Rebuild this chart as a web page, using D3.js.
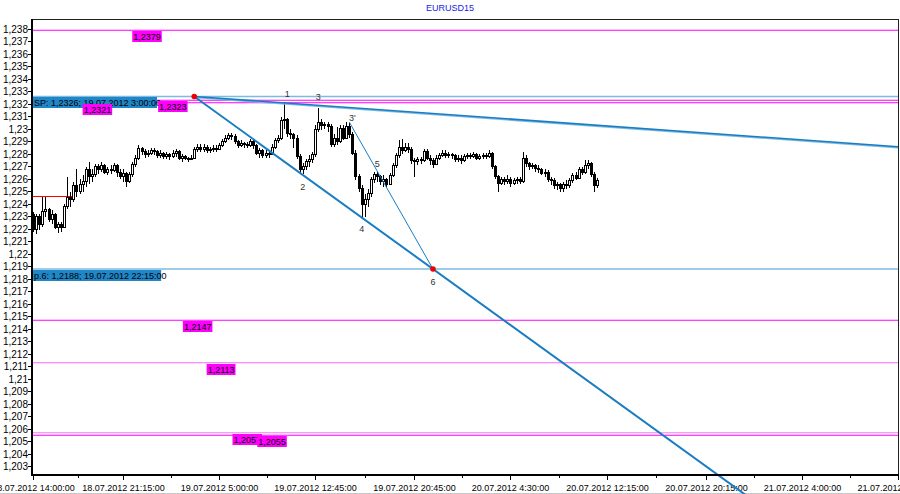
<!DOCTYPE html>
<html><head><meta charset="utf-8">
<script src="https://cdn.jsdelivr.net/npm/d3@7"></script>
<style>body{margin:0;background:#fff}svg{display:block}text{font-family:"Liberation Sans",Arial,sans-serif}</style>
</head><body><svg id="c" width="900" height="494"></svg>
<script>
// ---------- DATA ----------
const title = "EURUSD15";
const startTime = "18.07.2012 14:00";
const barMinutes = 15;
const open0 = 1.2232;
const closes = [
1.2220,1.2230,1.2224,1.2234,1.2236,1.2228,1.2232,1.2222,1.2224,1.2222,
1.2238,1.2246,1.2244,1.2255,1.2250,1.2256,1.2258,1.2268,1.2262,1.2264,
1.2270,1.2268,1.2271,1.2266,1.2268,1.2267,1.2271,1.2266,1.2262,1.2265,
1.2258,1.2264,1.2272,1.2277,1.2285,1.2282,1.2280,1.2281,1.2283,1.2282,
1.2279,1.2281,1.2278,1.2280,1.2278,1.2281,1.2282,1.2277,1.2278,1.2277,
1.2276,1.2277,1.2284,1.2286,1.2284,1.2286,1.2283,1.2284,1.2285,1.2284,
1.2287,1.2290,1.2293,1.2295,1.2294,1.2290,1.2287,1.2289,1.2288,1.2287,
1.2290,1.2287,1.2281,1.2283,1.2279,1.2281,1.2280,1.2286,1.2291,1.2293,
1.2307,1.2308,1.2297,1.2296,1.2293,1.2278,1.2268,1.2270,1.2274,1.2276,
1.2280,1.2300,1.2306,1.2303,1.2304,1.2302,1.2288,1.2293,1.2290,1.2301,
1.2293,1.2302,1.2296,1.2281,1.2262,1.2253,1.2240,1.2244,1.2249,1.2260,
1.2264,1.2262,1.2258,1.2260,1.2256,1.2263,1.2271,1.2279,1.2286,1.2283,
1.2286,1.2284,1.2275,1.2274,1.2276,1.2275,1.2282,1.2277,1.2275,1.2272,
1.2277,1.2279,1.2281,1.2279,1.2280,1.2279,1.2276,1.2277,1.2275,1.2278,
1.2279,1.2278,1.2280,1.2277,1.2278,1.2279,1.2278,1.2281,1.2270,1.2262,
1.2257,1.2260,1.2258,1.2260,1.2257,1.2259,1.2260,1.2258,1.2277,1.2273,
1.2270,1.2271,1.2269,1.2268,1.2265,1.2266,1.2260,1.2259,1.2255,1.2256,
1.2253,1.2256,1.2255,1.2259,1.2263,1.2261,1.2268,1.2266,1.2271,1.2273,
1.2264,1.2255,1.2259];
const highs = [
1.2234,1.2232,1.2232,1.2246,1.2246,1.2237,1.2235,1.2233,1.2226,1.2226,
1.2240,1.2262,1.2250,1.2258,1.2268,1.2260,1.2263,1.2270,1.2274,1.2268,
1.2272,1.2272,1.2274,1.2272,1.2270,1.2271,1.2273,1.2272,1.2268,1.2268,
1.2266,1.2266,1.2274,1.2279,1.2287,1.2286,1.2284,1.2283,1.2285,1.2285,
1.2283,1.2283,1.2282,1.2282,1.2281,1.2283,1.2284,1.2283,1.2280,1.2279,
1.2278,1.2279,1.2286,1.2288,1.2288,1.2288,1.2287,1.2286,1.2287,1.2287,
1.2289,1.2292,1.2295,1.2297,1.2297,1.2296,1.2291,1.2291,1.2290,1.2290,
1.2292,1.2291,1.2288,1.2285,1.2284,1.2283,1.2283,1.2288,1.2293,1.2295,
1.2310,1.2322,1.2309,1.2300,1.2297,1.2295,1.2280,1.2273,1.2276,1.2279,
1.2282,1.2303,1.2317,1.2308,1.2306,1.2306,1.2304,1.2296,1.2302,1.2303,
1.2303,1.2306,1.2305,1.2298,1.2283,1.2264,1.2255,1.2248,1.2252,1.2262,
1.2266,1.2266,1.2263,1.2263,1.2261,1.2265,1.2273,1.2281,1.2291,1.2292,
1.2289,1.2289,1.2286,1.2277,1.2278,1.2278,1.2284,1.2284,1.2279,1.2277,
1.2279,1.2281,1.2283,1.2283,1.2282,1.2281,1.2280,1.2279,1.2279,1.2280,
1.2281,1.2281,1.2282,1.2281,1.2280,1.2281,1.2281,1.2283,1.2282,1.2271,
1.2263,1.2262,1.2262,1.2263,1.2262,1.2261,1.2262,1.2262,1.2282,1.2279,
1.2274,1.2273,1.2272,1.2271,1.2269,1.2268,1.2267,1.2262,1.2261,1.2258,
1.2257,1.2258,1.2259,1.2261,1.2265,1.2266,1.2270,1.2270,1.2275,1.2275,
1.2274,1.2266,1.2261];
const lows = [
1.2218,1.2216,1.2219,1.2222,1.2230,1.2226,1.2224,1.2220,1.2217,1.2218,
1.2221,1.2236,1.2238,1.2242,1.2246,1.2248,1.2250,1.2254,1.2256,1.2258,
1.2262,1.2264,1.2266,1.2264,1.2263,1.2264,1.2266,1.2262,1.2260,1.2258,
1.2254,1.2257,1.2262,1.2270,1.2275,1.2279,1.2277,1.2278,1.2279,1.2279,
1.2277,1.2277,1.2276,1.2276,1.2275,1.2277,1.2278,1.2275,1.2274,1.2275,
1.2274,1.2275,1.2276,1.2282,1.2282,1.2282,1.2281,1.2281,1.2282,1.2282,
1.2283,1.2286,1.2289,1.2291,1.2291,1.2288,1.2285,1.2286,1.2285,1.2285,
1.2286,1.2284,1.2279,1.2277,1.2277,1.2277,1.2277,1.2279,1.2284,1.2289,
1.2291,1.2300,1.2294,1.2292,1.2285,1.2276,1.2265,1.2264,1.2267,1.2270,
1.2273,1.2278,1.2298,1.2299,1.2300,1.2298,1.2286,1.2286,1.2287,1.2289,
1.2291,1.2292,1.2293,1.2279,1.2259,1.2250,1.2230,1.2230,1.2238,1.2246,
1.2257,1.2258,1.2255,1.2254,1.2254,1.2255,1.2262,1.2269,1.2277,1.2280,
1.2282,1.2281,1.2272,1.2262,1.2271,1.2272,1.2274,1.2275,1.2271,1.2269,
1.2271,1.2275,1.2278,1.2277,1.2277,1.2276,1.2274,1.2274,1.2272,1.2274,
1.2276,1.2276,1.2277,1.2275,1.2275,1.2276,1.2276,1.2277,1.2268,1.2260,
1.2250,1.2255,1.2255,1.2256,1.2254,1.2255,1.2256,1.2256,1.2257,1.2270,
1.2267,1.2268,1.2266,1.2265,1.2263,1.2262,1.2258,1.2255,1.2252,1.2251,
1.2250,1.2250,1.2252,1.2253,1.2257,1.2259,1.2260,1.2263,1.2264,1.2268,
1.2262,1.2250,1.2253];

const xDomain = ["18.07.2012 13:55", "21.07.2012 11:45"];
const yDomain = [1.20232, 1.2388];
const yTickValues = [1.203,1.204,1.205,1.206,1.207,1.208,1.209,1.21,1.211,1.212,1.213,1.214,1.215,1.216,1.217,1.218,1.219,1.22,1.221,1.222,1.223,1.224,1.225,1.226,1.227,1.228,1.229,1.23,1.231,1.232,1.233,1.234,1.235,1.236,1.237,1.238];
const xTickLabels = ["18.07.2012 14:00:00","18.07.2012 21:15:00","19.07.2012 5:00:00","19.07.2012 12:45:00","19.07.2012 20:45:00","20.07.2012 4:30:00","20.07.2012 12:15:00","20.07.2012 20:15:00","21.07.2012 4:00:00","21.07.2012 11:45:00"];

const levelValues = [1.2379, 1.2321, 1.2323, 1.2147, 1.2113, 1.2057, 1.2055];
const levelLabels = ["1,2379","1,2321","1,2323","1,2147","1,2113","1,2057","1,2055"];
const levelColors = ["#ff00ff","#ff00ff","#ff00ff","#ff00ff","#ff66ff","#ff77ff","#ff00ff"];
const levelLabelTimes = ["18.07.2012 22:00","18.07.2012 18:00","19.07.2012 00:05","19.07.2012 02:05","19.07.2012 04:00","19.07.2012 06:05","19.07.2012 08:05"];

const spPoint = {time:"19.07.2012 03:00", value:1.2326, label:"SP: 1,2326; 19.07.2012 3:00:00"};
const p6Point = {time:"19.07.2012 22:15", value:1.2188, label:"p.6: 1,2188; 19.07.2012 22:15:00"};
const p3bPoint = {time:"19.07.2012 15:30", value:1.23056};
const upperEnd = {time:"21.07.2012 11:45", value:1.22858};
const lowerEndTime = "21.07.2012 00:00";
const redLevel = {value:1.2246, end:"18.07.2012 17:10"};

const waveLabels = ["1","2","3","3'","4","5","6"];
const waveTimes = ["19.07.2012 10:30","19.07.2012 11:45","19.07.2012 13:00","19.07.2012 15:45","19.07.2012 16:30","19.07.2012 17:45","19.07.2012 22:15"];
const waveValues = [1.2328, 1.2254, 1.2326, 1.2309, 1.2220, 1.2272, 1.2178];

// ---------- CHART ----------
const svg = d3.select("#c");
const L = 32, R = 898, T = 19, B = 475;
const pt = d3.timeParse("%d.%m.%Y %H:%M");
const ptS = d3.timeParse("%d.%m.%Y %H:%M:%S");
const x = d3.scaleTime().domain(xDomain.map(pt)).range([L, R]);
const y = d3.scaleLinear().domain(yDomain).range([B, T]);
const DARK = "#1a7cc2", LIGHT = "#7dbbe3", BOXBLUE = "#1f86c8";

const t0 = pt(startTime);
const bars = closes.map((c, i) => ({
  t: new Date(t0.getTime() + i * barMinutes * 60000),
  o: i === 0 ? open0 : closes[i - 1], c, h: highs[i], l: lows[i]
}));

// frame
svg.append("line").attr("x1", L).attr("x2", R).attr("y1", T + 0.5).attr("y2", T + 0.5).attr("stroke", "#222").attr("stroke-width", 1);
svg.append("line").attr("x1", R + 0.5).attr("x2", R + 0.5).attr("y1", T).attr("y2", B).attr("stroke", "#222").attr("stroke-width", 1);
svg.append("line").attr("x1", 0).attr("x2", 900).attr("y1", 493.5).attr("y2", 493.5).attr("stroke", "#c8c8c8");

// y axis ticks/labels
const fmt = v => d3.format(".3~f")(v).replace(".", ",");
const yg = svg.append("g");
yTickValues.forEach(v => {
  const yy = Math.round(y(v)) + 0.5;
  yg.append("line").attr("x1", L - 4).attr("x2", L).attr("y1", yy).attr("y2", yy).attr("stroke", "#000");
  yg.append("text").attr("x", L - 4).attr("y", yy + 3.6).attr("text-anchor", "end").attr("font-size", 10).attr("fill", "#000").text(fmt(v));
});

// x axis ticks/labels
const xTicks = xTickLabels.map(s => ptS(s));
const xg = svg.append("g");
xTicks.forEach((t, i) => {
  const xx = Math.round(x(t)) + 0.5;
  xg.append("line").attr("x1", xx).attr("x2", xx).attr("y1", B).attr("y2", B + 5).attr("stroke", "#000");
  xg.append("text").attr("x", xx).attr("y", 491).attr("text-anchor", "middle").attr("font-size", 9).attr("fill", "#000").text(xTickLabels[i]);
  if (i < xTicks.length - 1) {
    const m = Math.round((x(t) + x(xTicks[i + 1])) / 2) + 0.5;
    xg.append("line").attr("x1", m).attr("x2", m).attr("y1", B).attr("y2", B + 3).attr("stroke", "#000");
  }
});

// horizontal levels
const hl = svg.append("g");
hl.append("line").attr("x1", L).attr("x2", R).attr("y1", y(spPoint.value)).attr("y2", y(spPoint.value)).attr("stroke", LIGHT).attr("stroke-width", 1.6);
hl.append("line").attr("x1", L).attr("x2", R).attr("y1", y(p6Point.value)).attr("y2", y(p6Point.value)).attr("stroke", LIGHT).attr("stroke-width", 1.6);
levelValues.forEach((v, i) => {
  hl.append("line").attr("x1", L).attr("x2", R).attr("y1", y(v)).attr("y2", y(v)).attr("stroke", levelColors[i]).attr("stroke-width", 1.2);
});
hl.append("line").attr("x1", L).attr("x2", x(pt(redLevel.end))).attr("y1", y(redLevel.value)).attr("y2", y(redLevel.value)).attr("stroke", "#ff0000").attr("stroke-width", 1.2);

// candles
const cg = svg.append("g").attr("shape-rendering", "crispEdges");
bars.forEach(b => {
  const xc = Math.round(x(b.t));
  const hi = Math.max(b.h, b.o, b.c), lo = Math.min(b.l, b.o, b.c);
  cg.append("line").attr("x1", xc + 0.5).attr("x2", xc + 0.5).attr("y1", y(hi)).attr("y2", y(lo)).attr("stroke", "#000");
  const top = Math.round(y(Math.max(b.o, b.c))), bot = Math.round(y(Math.min(b.o, b.c)));
  const up = b.c >= b.o;
  cg.append("rect").attr("x", xc - 0.5).attr("y", top + 0.5).attr("width", 2).attr("height", Math.max(0, bot - top))
    .attr("fill", up ? "#fff" : "#000").attr("stroke", "#000").attr("stroke-width", 1);
});

// trend lines
const sp = [x(pt(spPoint.time)), y(spPoint.value)];
const p6 = [x(pt(p6Point.time)), y(p6Point.value)];
const p3b = [x(pt(p3bPoint.time)), y(p3bPoint.value)];
const ue = [x(pt(upperEnd.time)), y(upperEnd.value)];
// extend SP -> p6 line in data space
const tSp = pt(spPoint.time).getTime(), tP6 = pt(p6Point.time).getTime(), tEnd = pt(lowerEndTime).getTime();
const vEnd = spPoint.value + (p6Point.value - spPoint.value) * (tEnd - tSp) / (tP6 - tSp);
const le = [x(new Date(tEnd)), y(vEnd)];

const tl = svg.append("g");
tl.append("line").attr("x1", sp[0]).attr("y1", sp[1] + 1).attr("x2", ue[0]).attr("y2", ue[1] + 1).attr("stroke", LIGHT).attr("stroke-width", 1.5);
tl.append("line").attr("x1", sp[0]).attr("y1", sp[1]).attr("x2", ue[0]).attr("y2", ue[1]).attr("stroke", DARK).attr("stroke-width", 1.6);
tl.append("line").attr("x1", sp[0]).attr("y1", sp[1]).attr("x2", le[0]).attr("y2", le[1]).attr("stroke", DARK).attr("stroke-width", 2);
tl.append("line").attr("x1", p3b[0]).attr("y1", p3b[1]).attr("x2", p6[0]).attr("y2", p6[1]).attr("stroke", DARK).attr("stroke-width", 1);

// axis lines (left / bottom)
svg.append("line").attr("x1", L).attr("x2", L).attr("y1", T).attr("y2", B + 1).attr("stroke", "#000").attr("stroke-width", 2);
svg.append("line").attr("x1", L - 1).attr("x2", R + 1).attr("y1", B).attr("y2", B).attr("stroke", "#000").attr("stroke-width", 2);

// info boxes
function box(xl, yt, text, fill, w) {
  const g = svg.append("g");
  const r = g.append("rect").attr("x", xl).attr("y", yt).attr("height", 11).attr("fill", fill);
  const tx = g.append("text").attr("x", xl + 1).attr("y", yt + 8.8).attr("font-size", 9).attr("fill", "#000").text(text);
  const tw = tx.node().getComputedTextLength();
  r.attr("width", w != null ? w : tw + 2);
}
box(L + 1, Math.round(sp[1]), spPoint.label, BOXBLUE, x(pt("18.07.2012 23:55")) - L);
box(L + 1, Math.round(p6[1]) + 1, p6Point.label, BOXBLUE, x(pt("19.07.2012 00:15")) - L);
levelValues.forEach((v, i) => {
  box(x(pt(levelLabelTimes[i])), Math.round(y(v)) + 1, levelLabels[i], "#ff00ff");
});

// red points
[sp, p6].forEach(p => svg.append("circle").attr("cx", p[0]).attr("cy", p[1]).attr("r", 2.8).attr("fill", "#ee0000"));

// wave labels
waveLabels.forEach((s, i) => {
  svg.append("text").attr("x", x(pt(waveTimes[i]))).attr("y", y(waveValues[i]) + 3).attr("text-anchor", "middle")
    .attr("font-size", 9).attr("fill", "#333").text(s);
});

// title
svg.append("text").attr("x", 450).attr("y", 11).attr("text-anchor", "middle").attr("font-size", 9).attr("fill", "#1a1ae6").text(title);
</script></body></html>
